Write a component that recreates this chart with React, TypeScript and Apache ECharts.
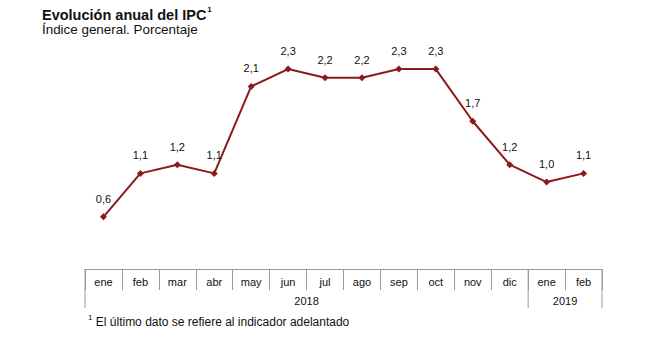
import React, { useEffect, useRef } from "react";
import * as echarts from "echarts";

const months = ["ene", "feb", "mar", "abr", "may", "jun", "jul", "ago", "sep", "oct", "nov", "dic", "ene", "feb"];
const values = [0.6, 1.1, 1.2, 1.1, 2.1, 2.3, 2.2, 2.2, 2.3, 2.3, 1.7, 1.2, 1.0, 1.1];
const years = [
  { label: "2018", start: 0, end: 12 },
  { label: "2019", start: 12, end: 14 },
];
const titleText = "Evolución anual del IPC";
const subtitleText = "Índice general. Porcentaje";
const footnoteText = "El último dato se refiere al indicador adelantado";

const FONT = "'Liberation Sans', Arial, sans-serif";
const LINE = "#8B1A1A";
const GRID_COLOR = "#9a9a9a";

export default function App() {
  const ref = useRef<HTMLDivElement>(null);
  useEffect(() => {
    document.body.style.margin = "0";
    const chart = echarts.init(ref.current!, null, { renderer: "svg" });
    const axisY = 269;
    chart.setOption({
      animation: false,
      textStyle: { fontFamily: FONT },
      grid: { left: 85, right: 52, top: 43, bottom: 362 - axisY, containLabel: false },
      xAxis: {
        type: "category",
        data: months,
        boundaryGap: true,
        axisLine: { show: true, lineStyle: { color: GRID_COLOR, width: 1 } },
        axisTick: { show: true, interval: 0, length: 21, lineStyle: { color: GRID_COLOR, width: 1 } },
        axisLabel: { interval: 0, margin: 7, fontSize: 11, color: "#111", fontFamily: FONT },
      },
      yAxis: { type: "value", min: 0, max: 2.6, show: false, splitLine: { show: false } },
      series: [
        {
          type: "line",
          data: values,
          symbol: "diamond",
          symbolSize: 7,
          itemStyle: { color: LINE },
          lineStyle: { color: LINE, width: 2 },
          label: {
            show: true,
            position: "top",
            distance: 9,
            fontSize: 11,
            color: "#111",
            fontFamily: FONT,
            formatter: (p: any) => p.value.toFixed(1).replace(".", ","),
          },
        },
      ],
    });

    const c0 = chart.convertToPixel({ xAxisIndex: 0 }, 0) as number;
    const c1 = chart.convertToPixel({ xAxisIndex: 0 }, 1) as number;
    const band = c1 - c0;
    const edge = (i: number) => c0 - band / 2 + i * band;
    const bottomY = 308;
    const graphics: any[] = [];
    const boundaries = new Set<number>();
    years.forEach((y) => {
      boundaries.add(y.start);
      boundaries.add(y.end);
    });
    boundaries.forEach((b) => {
      graphics.push({
        type: "line",
        shape: { x1: edge(b), y1: axisY, x2: edge(b), y2: bottomY },
        style: { stroke: GRID_COLOR, lineWidth: 1 },
      });
    });
    years.forEach((y) => {
      graphics.push({
        type: "text",
        x: (edge(y.start) + edge(y.end)) / 2,
        y: 301,
        style: {
          text: y.label,
          fontSize: 11,
          fill: "#111",
          fontFamily: FONT,
          align: "center",
          verticalAlign: "middle",
        },
      });
    });
    graphics.push({
      type: "text",
      x: 42,
      y: 4,
      style: {
        text: `{b|${titleText}}{s|1}`,
        fontFamily: FONT,
        rich: {
          b: { fontSize: 14.5, fontWeight: "bold", fill: "#111", fontFamily: FONT, lineHeight: 18, verticalAlign: "bottom" },
          s: { fontSize: 8, fontWeight: "bold", fill: "#111", fontFamily: FONT, lineHeight: 18, verticalAlign: "top", padding: [1, 0, 8, 1] },
        },
      },
    });
    graphics.push({
      type: "text",
      x: 42,
      y: 23,
      style: { text: subtitleText, fontSize: 13.4, fill: "#111", fontFamily: FONT },
    });
    graphics.push({
      type: "text",
      x: 88,
      y: 313,
      style: {
        text: `{s|1} {t|${footnoteText}}`,
        fontFamily: FONT,
        rich: {
          s: { fontSize: 8, fill: "#111", fontFamily: FONT, lineHeight: 15, verticalAlign: "top", padding: [0, 0, 6, 0] },
          t: { fontSize: 12, fill: "#111", fontFamily: FONT, lineHeight: 15, verticalAlign: "bottom" },
        },
      },
    });
    chart.setOption({ graphic: graphics });
    return () => chart.dispose();
  }, []);
  return <div ref={ref} style={{ width: 654, height: 362 }} />;
}
